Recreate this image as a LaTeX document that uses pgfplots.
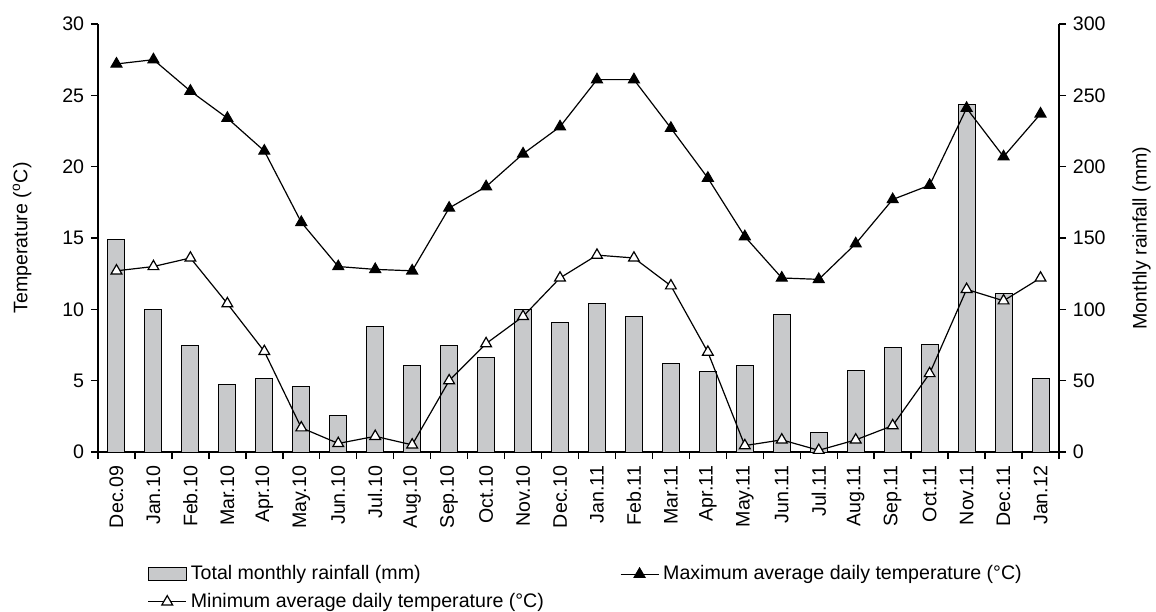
\documentclass[border=0pt]{standalone}
\usepackage{pgfplots}
\pgfplotsset{compat=1.18}
\usepackage{fontspec}
\setmainfont{Liberation Sans}
\definecolor{barfill}{RGB}{200,201,203}

\begin{document}
\fontsize{9.8}{11.8}\selectfont
\begin{tikzpicture}
\useasboundingbox (-49pt,-79.5pt) rectangle (529pt,226pt);
\pgfplotsset{
  every axis/.append style={
    at={(0,0)}, anchor=south west,
    scale only axis, width=480.5pt, height=214pt,
    xmin=-0.5, xmax=25.5,
    tick align=outside,
    major tick length=3.5pt, minor tick length=3.5pt,
    axis line style={line width=0.7pt},
    every tick/.style={black, line width=0.7pt},
    /pgf/number format/assume math mode=true,
  },
}
% rainfall (right axis), drawn first so the lines lie on top
\begin{axis}[
  ymin=0, ymax=300,
  axis y line*=right,
  axis x line*=bottom,
  ytick={0,50,...,300},
  xtick={0,...,25},
  xticklabels={Dec.09,Jan.10,Feb.10,Mar.10,Apr.10,May.10,Jun.10,Jul.10,Aug.10,Sep.10,Oct.10,Nov.10,Dec.10,Jan.11,Feb.11,Mar.11,Apr.11,May.11,Jun.11,Jul.11,Aug.11,Sep.11,Oct.11,Nov.11,Dec.11,Jan.12},
  x tick label style={rotate=90, anchor=east},
  major x tick style={draw=none},
  minor xtick={-0.5,0.5,...,25.5},
  ylabel={Monthly rainfall (mm)},
  ylabel style={at={(axis description cs:1.086,0.5)}, anchor=center, rotate=0},
]
\addplot[ybar, bar width=8.5pt, fill=barfill, draw=black, line width=0.5pt] coordinates {
  (0,149.2) (1,99.7) (2,74.5) (3,47.2) (4,51.6) (5,46.0) (6,25.4) (7,88.2)
  (8,60.7) (9,74.5) (10,66.5) (11,99.7) (12,90.6) (13,104.1) (14,95.0)
  (15,61.9) (16,56.3) (17,60.7) (18,96.2) (19,13.8) (20,57.2) (21,73.3)
  (22,75.6) (23,243.7) (24,110.9) (25,51.6)
};
\end{axis}
% temperature (left axis)
\begin{axis}[
  ymin=0, ymax=30,
  axis y line*=left,
  axis x line=none,
  ytick={0,5,...,30},
  ylabel={Temperature (\textsuperscript{o}C)},
  ylabel style={at={(axis description cs:-0.079,0.5)}, anchor=center},
  legend columns=2,
  legend cell align=left,
  legend style={draw=none, fill=none, at={(axis description cs:0.045,-0.246)}, anchor=north west,
    row sep=1.2pt,
    /tikz/every even column/.append style={column sep=36pt}},
  legend image code/.code={\draw[mark repeat=2,mark phase=2] plot coordinates {(0pt,0pt) (9.5pt,0pt) (19pt,0pt)};},
]
\addlegendimage{legend image code/.code={\draw[fill=barfill, draw=black, line width=0.5pt] (0pt,-3.2pt) rectangle (19pt,3.2pt);}}
\addlegendentry{Total monthly rainfall (mm)}
\addplot[black, line width=0.6pt, mark=triangle*, mark size=3.1pt, mark options={solid, fill=black}] coordinates {
  (0,27.2) (1,27.5) (2,25.3) (3,23.4) (4,21.1) (5,16.1) (6,13.0) (7,12.8)
  (8,12.7) (9,17.1) (10,18.6) (11,20.9) (12,22.8) (13,26.1) (14,26.1)
  (15,22.7) (16,19.2) (17,15.1) (18,12.2) (19,12.1) (20,14.6) (21,17.7)
  (22,18.7) (23,24.1) (24,20.7) (25,23.7)
};
\addlegendentry{Maximum average daily temperature (°C)}
\addplot[black, line width=0.6pt, mark=triangle*, mark size=3.1pt, mark options={solid, fill=white}] coordinates {
  (0,12.7) (1,13.0) (2,13.6) (3,10.4) (4,7.05) (5,1.7) (6,0.6) (7,1.1)
  (8,0.5) (9,5.0) (10,7.6) (11,9.5) (12,12.2) (13,13.8) (14,13.6)
  (15,11.65) (16,7.0) (17,0.45) (18,0.85) (19,0.12) (20,0.85) (21,1.85)
  (22,5.5) (23,11.4) (24,10.6) (25,12.2)
};
\addlegendentry{Minimum average daily temperature (°C)}
\end{axis}
\end{tikzpicture}
\end{document}
